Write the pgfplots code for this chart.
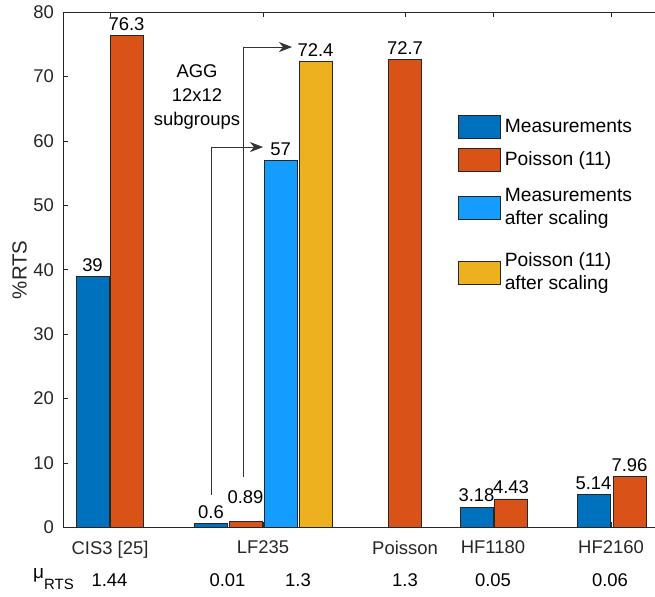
\documentclass[border=0pt]{standalone}
\usepackage{pgfplots}
\pgfplotsset{compat=1.18}
\usepackage{fontspec}
\setmainfont{Liberation Sans}
\usetikzlibrary{arrows.meta}
\definecolor{mblue}{RGB}{0,114,189}
\definecolor{morange}{RGB}{217,83,25}
\definecolor{mlblue}{RGB}{20,156,255}
\definecolor{myellow}{RGB}{237,177,32}
\definecolor{axgray}{RGB}{38,38,38}
\pgfplotsset{
  mybar/.style={ybar, bar width=33, bar shift=0pt, draw=black!85, line width=0.8bp,
    legend image code/.code={\draw[##1, line width=0.8bp, draw=black!85] (0bp,-11.5bp) rectangle (42bp,11.5bp);},
    nodes near coords, point meta=explicit symbolic,
    nodes near coords style={font=\fontsize{18.5}{23}\selectfont, anchor=south, inner sep=0pt, yshift=4.5bp, text=black}},
  padimg/.style 2 args={legend image code/.code={\path[draw=none, fill=none] (0bp,-#1bp) -- (0bp,#1bp);
      \draw[##1, line width=0.8bp, draw=black!85] (0bp,-11.5bp+#2bp) rectangle (42bp,11.5bp+#2bp);}},
  arr/.style={forget plot, sharp plot, mark=none, draw=black!80, line width=0.7bp,
    -{Stealth[length=13bp,width=10bp,inset=4bp]}}
}
\begin{document}
\fontsize{18.5}{23}\selectfont
\begin{tikzpicture}
\useasboundingbox (0,0) rectangle (655bp,597bp);
\begin{axis}[
  at={(63bp,69.5bp)}, anchor=south west,
  scale only axis, width=593bp, height=515.5bp,
  xmin=63, xmax=656, ymin=0, ymax=80,
  clip=false,
  axis line style={draw=axgray, line width=0.6bp},
  tick style={draw=axgray, line width=0.6bp},
  tick align=inside, major tick length=5bp,
  ytick pos=left,
  xtick={110,263,405,493,611},
  xticklabels={CIS3 [25],LF235,Poisson,HF1180,HF2160},
  ytick={0,10,...,80},
  /pgf/number format/assume math mode=true,
  tick label style={text=axgray, font=\fontsize{18.5}{23}\selectfont},
  xticklabel style={anchor=north, inner sep=0pt, yshift=-13bp},
  yticklabel style={anchor=east, inner sep=0pt, xshift=-9bp},
  ylabel={\%RTS},
  ylabel style={font=\fontsize{20.5}{24}\selectfont, text=axgray, at={(axis description cs:-0.073,0.5)}, anchor=center},
  legend style={draw=none, fill=none, at={(axis description cs:0.6661,0.8)}, anchor=north west,
    inner sep=0pt, outer sep=0pt, row sep=9.5bp, column sep=4bp,
    cells={anchor=west, align=left},
    nodes={inner sep=0pt, text=black, font=\fontsize{19.3}{23}\selectfont}},
  legend cell align=left,
]
\addplot[mybar, fill=mblue] coordinates {(92.5,39) [39] (211,0.6) [0.6] (476.5,3.18) [3.18] (593.5,5.14) [5.14]};
\addlegendentry{Measurements}
\addplot[mybar, fill=morange] coordinates {(126.5,76.3) [76.3] (405,72.7) [72.7] (511,4.43) [4.43] (629.5,7.96) [7.96]};
\addlegendentry{Poisson (11)}
\addplot[mybar, fill=mlblue, padimg={26.5}{0}] coordinates {(280.5,57) [57]};
\addlegendentry{Measurements\\after scaling}
\addplot[mybar, fill=myellow, padimg={28.5}{0}] coordinates {(315.5,72.4) [72.4]};
\addlegendentry{Poisson (11)\\after scaling}
\addplot[mybar, fill=morange, forget plot, nodes near coords style={yshift=13.5bp}] coordinates {(245.5,0.89) [0.89]};
\addplot[arr] coordinates {(211,5.04) (211,59.04) (263,59.04)};
\addplot[arr] coordinates {(243,7.84) (243,74.56) (292,74.56)};
\node[align=center, inner sep=0pt, font=\fontsize{18.5}{24.5}\selectfont, text=black] at (axis cs:197,66.82) {AGG\\12x12\\subgroups};
\node[anchor=base west, inner sep=0pt, text=black] at (axis cs:33,-7.99) {\fontsize{19}{23}\selectfont μ\raisebox{-11bp}{\fontsize{15}{15}\selectfont RTS}};
\node[anchor=base, inner sep=0pt, text=black] at (axis cs:109.5,-9.23) {1.44};
\node[anchor=base, inner sep=0pt, text=black] at (axis cs:227.5,-9.23) {0.01};
\node[anchor=base, inner sep=0pt, text=black] at (axis cs:298,-9.23) {1.3};
\node[anchor=base, inner sep=0pt, text=black] at (axis cs:405,-9.23) {1.3};
\node[anchor=base, inner sep=0pt, text=black] at (axis cs:493,-9.23) {0.05};
\node[anchor=base, inner sep=0pt, text=black] at (axis cs:610,-9.23) {0.06};
\end{axis}
\end{tikzpicture}
\end{document}
